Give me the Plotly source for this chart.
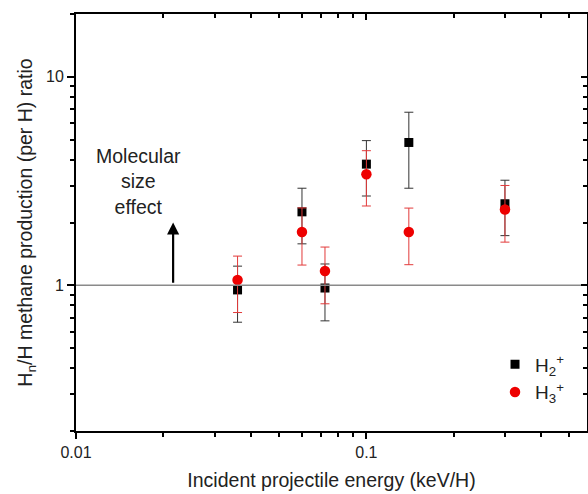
import math
import plotly.graph_objects as go

# ---- data ----
energy = [0.036, 0.06, 0.072, 0.1, 0.14, 0.30]          # keV/H
h2_ratio = [0.95, 2.25, 0.97, 3.81, 4.84, 2.46]
h2_err = [0.285, 0.67, 0.295, 1.13, 1.92, 0.73]
h3_ratio = [1.06, 1.80, 1.17, 3.41, 1.80, 2.31]
h3_err = [0.32, 0.55, 0.355, 1.01, 0.545, 0.70]

ref_ratio = 1.0
x_range = [0.01, 0.575]
y_range = [0.2, 20]
x_major = [0.01, 0.1]
x_major_text = ["0.01", "0.1"]
y_major = [1, 10]
y_major_text = ["1", "10"]
arrow_x = 0.0216
arrow_from = 1.0
arrow_to = 2.0
label_x = 0.01635
label_y = 3.13

x_minor = [m * 10 ** e for e in (-2, -1) for m in range(2, 10)]
y_minor = [m * 10 ** e for e in (-1, 0, 1) for m in range(2, 10)]

FONT = "Liberation Sans, Arial, sans-serif"
lxr = [math.log10(v) for v in x_range]
lyr = [math.log10(v) for v in y_range]

fig = go.Figure()

# reference line at ratio 1 (drawn on the mirrored top/right axes, same scales)
fig.add_trace(go.Scatter(
    x=x_range, y=[ref_ratio, ref_ratio], mode="lines", xaxis="x2", yaxis="y2",
    line=dict(color="#8a8a8a", width=1.6), showlegend=False, hoverinfo="skip",
))

fig.add_trace(go.Scatter(
    x=energy, y=h2_ratio, mode="markers", name="H<sub>2</sub><sup>+</sup>",
    marker=dict(symbol="square", size=9, color="#000000"),
    error_y=dict(type="data", array=h2_err, color="#333333", thickness=1, width=4.5),
))
fig.add_trace(go.Scatter(
    x=energy, y=h3_ratio, mode="markers", name="H<sub>3</sub><sup>+</sup>",
    marker=dict(symbol="circle", size=10.5, color="#ee0000"),
    error_y=dict(type="data", array=h3_err, color="#e23a3a", thickness=1, width=4.5),
))

axis_common = dict(showgrid=False, zeroline=False, showline=True,
                   linecolor="#000000", linewidth=2)

fig.update_layout(
    width=588, height=494,
    margin=dict(l=76, r=1, t=14, b=63),
    paper_bgcolor="white", plot_bgcolor="white",
    font=dict(family=FONT, color="#222222"),
    xaxis=dict(
        type="log", range=lxr, tickmode="array", tickvals=x_major, ticktext=x_major_text,
        ticks="outside", ticklen=6, tickwidth=1.5, tickcolor="#000",
        minor=dict(tickmode="array", tickvals=x_minor, ticks="outside", ticklen=3.5,
                   tickwidth=1.5, tickcolor="#000"),
        tickfont=dict(size=16, family=FONT, color="#222"),
        title=dict(text="Incident projectile energy (keV/H)",
                   font=dict(size=19.5, family=FONT, color="#222"), standoff=13),
        automargin=False,
        **axis_common,
    ),
    yaxis=dict(
        type="log", range=lyr, tickmode="array", tickvals=y_major, ticktext=y_major_text,
        ticks="outside", ticklen=7, tickwidth=1.5, tickcolor="#000",
        minor=dict(tickmode="array", tickvals=y_minor, ticks="outside", ticklen=4,
                   tickwidth=1.5, tickcolor="#000"),
        tickfont=dict(size=16, family=FONT, color="#222"),
        title=dict(text="H<sub>n</sub>/H methane production (per H) ratio",
                   font=dict(size=19.5, family=FONT, color="#222"), standoff=8),
        automargin=False,
        **axis_common,
    ),
    xaxis2=dict(
        type="log", range=lxr, overlaying="x", side="top", anchor="y2",
        tickmode="array", tickvals=x_major, showticklabels=False,
        ticks="inside", ticklen=6, tickwidth=1.5, tickcolor="#000",
        minor=dict(tickmode="array", tickvals=x_minor, ticks="inside", ticklen=4,
                   tickwidth=1.5, tickcolor="#000"),
        **axis_common,
    ),
    yaxis2=dict(
        type="log", range=lyr, overlaying="y", side="right", anchor="x2",
        tickmode="array", tickvals=y_major, showticklabels=False,
        ticks="inside", ticklen=6, tickwidth=1.5, tickcolor="#000",
        minor=dict(tickmode="array", tickvals=y_minor, ticks="inside", ticklen=4,
                   tickwidth=1.5, tickcolor="#000"),
        **axis_common,
    ),
    legend=dict(
        x=0.82, y=0.205, xanchor="left", yanchor="top",
        bgcolor="rgba(0,0,0,0)", font=dict(size=19, family=FONT, color="#222"),
        tracegroupgap=0,
    ),
    showlegend=True,
)

fig.add_annotation(
    x=math.log10(label_x), y=math.log10(label_y), xref="x", yref="y",
    text="Molecular<br>size<br>effect", showarrow=False,
    font=dict(size=19.5, family=FONT, color="#222"), align="center",
)
fig.add_annotation(
    x=math.log10(arrow_x), y=math.log10(arrow_to), xref="x", yref="y",
    ax=math.log10(arrow_x), ay=math.log10(arrow_from), axref="x", ayref="y",
    text="", showarrow=True, arrowhead=2, arrowsize=1.1, arrowwidth=2.2,
    arrowcolor="#000000", standoff=0, startstandoff=1,
)

fig.write_html("out.html")
